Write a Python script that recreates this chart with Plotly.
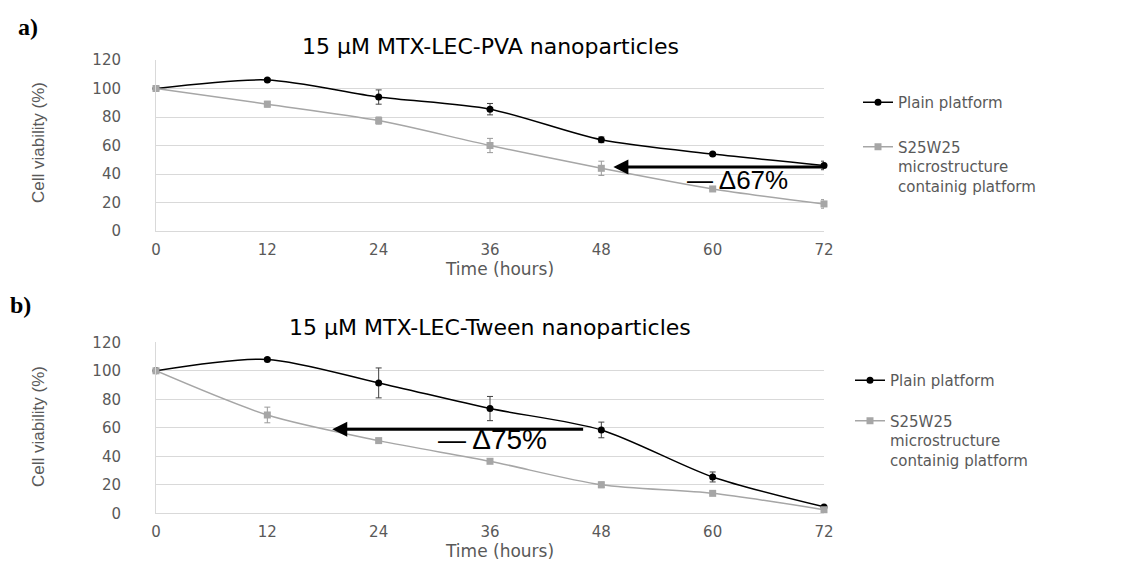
import plotly.graph_objects as go

hours = [0, 12, 24, 36, 48, 60, 72]
tick_labels = ["0", "12", "24", "36", "48", "60", "72"]

# Panel a) MTX-LEC-PVA
a_plain = [100, 106, 94, 85.5, 64, 54, 46]
a_plain_err = [0, 1, 5, 4, 2, 1, 3]
a_micro = [100, 89, 77.5, 60, 44, 29.5, 19]
a_micro_err = [0, 2, 2.5, 5, 5, 1, 3]

# Panel b) MTX-LEC-Tween
b_plain = [100, 108, 91.5, 73.5, 58.5, 25.5, 4.5]
b_plain_err = [0, 1, 10.5, 8.5, 5.5, 3.5, 1]
b_micro = [100, 69, 51, 36.5, 20, 14, 2.5]
b_micro_err = [0, 5.5, 1, 1, 2, 1, 1]

names = ["Plain platform", "S25W25<br>microstructure<br>containig platform"]
titles = ["15 µM MTX-LEC-PVA nanoparticles", "15 µM MTX-LEC-Tween nanoparticles"]
panel_labels = ["a)", "b)"]
deltas = ["— Δ67%", "— Δ75%"]
x_title = "Time (hours)"
y_title = "Cell viability (%)"

W, H = 1127, 561
BLACK = "#000000"
GRAY = "#a6a6a6"
TXT = "#595959"
GRID = "#d9d9d9"
FONT = "DejaVu Sans"

fig = go.Figure()

panels = [
    (a_plain, a_plain_err, a_micro, a_micro_err, "x", "y", "legend"),
    (b_plain, b_plain_err, b_micro, b_micro_err, "x2", "y2", "legend2"),
]
for i, (pl, ple, mi, mie, xa, ya, lg) in enumerate(panels):
    fig.add_trace(go.Scatter(
        x=hours, y=pl, name=names[0], xaxis=xa, yaxis=ya, legend=lg,
        legendgroup=f"p{i}", mode="lines+markers", cliponaxis=False,
        line=dict(color=BLACK, width=1.5, shape="spline", smoothing=0.8),
        marker=dict(symbol="circle", size=7, color=BLACK),
        error_y=dict(type="data", array=ple, color="#404040", thickness=1, width=3),
    ))
    fig.add_trace(go.Scatter(
        x=hours, y=mi, name=names[1], xaxis=xa, yaxis=ya, legend=lg,
        legendgroup=f"m{i}", mode="lines+markers", cliponaxis=False,
        line=dict(color=GRAY, width=1.5, shape="spline", smoothing=0.8),
        marker=dict(symbol="square", size=7, color=GRAY),
        error_y=dict(type="data", array=mie, color="#999999", thickness=1, width=3),
    ))

x_dom = [156 / W, 824 / W]
y_doms = [[1 - 231 / H, 1 - 60 / H], [1 - 513.3 / H, 1 - 342.3 / H]]

axis_common_x = dict(
    range=[0, 72], tickvals=hours, ticktext=tick_labels, showgrid=False,
    showline=True, linecolor=GRID, linewidth=1, zeroline=False, ticks="",
    ticklabelstandoff=5, automargin=False,
    tickfont=dict(family=FONT, size=15, color=TXT),
)
axis_common_y = dict(
    range=[0, 120], dtick=20, showgrid=True, gridcolor=GRID, gridwidth=1,
    showline=True, linecolor=GRID, linewidth=1, zeroline=False, ticks="",
    ticklabelstandoff=31, automargin=False,
    tickfont=dict(family=FONT, size=15, color=TXT),
)

legend_font = dict(family=FONT, size=15, color=TXT)
fig.update_layout(
    width=W, height=H,
    margin=dict(l=0, r=0, t=0, b=0, autoexpand=False),
    paper_bgcolor="white", plot_bgcolor="white",
    xaxis=dict(domain=x_dom, anchor="y", **axis_common_x),
    yaxis=dict(domain=y_doms[0], anchor="x", **axis_common_y),
    xaxis2=dict(domain=x_dom, anchor="y2", **axis_common_x),
    yaxis2=dict(domain=y_doms[1], anchor="x2", **axis_common_y),
    legend=dict(x=858 / W, y=1 - 86 / H, xanchor="left", yanchor="top",
                valign="top", tracegroupgap=22, bgcolor="rgba(0,0,0,0)",
                font=legend_font),
    legend2=dict(x=850 / W, y=1 - 364 / H, xanchor="left", yanchor="top",
                 valign="top", tracegroupgap=18, bgcolor="rgba(0,0,0,0)",
                 font=legend_font),
    showlegend=True,
)

annotations = []
# titles, axis titles and panel letters
title_y = [47, 327]
xtitle_y = [269, 551]
ytitle_y = [143, 427]
letter_pos = [(16, 27), (8, 305)]
for i in range(2):
    annotations.append(dict(
        text=titles[i], xref="paper", yref="paper", x=490 / W, y=1 - title_y[i] / H,
        xanchor="center", yanchor="middle", showarrow=False,
        font=dict(family=FONT, size=22, color="#000000")))
    annotations.append(dict(
        text=x_title, xref="paper", yref="paper", x=499 / W, y=1 - xtitle_y[i] / H,
        xanchor="center", yanchor="middle", showarrow=False,
        font=dict(family=FONT, size=17, color=TXT)))
    annotations.append(dict(
        text=y_title, xref="paper", yref="paper", x=38 / W, y=1 - ytitle_y[i] / H,
        xanchor="center", yanchor="middle", showarrow=False, textangle=-90,
        font=dict(family="Liberation Sans Narrow, Liberation Sans", size=17, color=TXT)))
    annotations.append(dict(
        text=f"<b>{panel_labels[i]}</b>", xref="paper", yref="paper",
        x=letter_pos[i][0] / W, y=1 - letter_pos[i][1] / H,
        xanchor="left", yanchor="middle", showarrow=False,
        font=dict(family="Liberation Serif", size=24, color="#000000")))

# arrows
annotations.append(dict(
    x=49.3, y=45, ax=72, ay=45, xref="x", yref="y", axref="x", ayref="y",
    text="", showarrow=True, arrowhead=2, arrowsize=1, arrowwidth=3, arrowcolor="#000000"))
annotations.append(dict(
    x=19, y=59, ax=46.2, ay=59, xref="x2", yref="y2", axref="x2", ayref="y2",
    text="", showarrow=True, arrowhead=2, arrowsize=1, arrowwidth=3, arrowcolor="#000000"))
annotations.append(dict(
    text=deltas[0], x=62.7, y=36, xref="x", yref="y", showarrow=False,
    xanchor="center", yanchor="middle",
    font=dict(family="Liberation Sans", size=26, color="#000000")))
annotations.append(dict(
    text=deltas[1], x=36.3, y=51.5, xref="x2", yref="y2", showarrow=False,
    xanchor="center", yanchor="middle",
    font=dict(family="Liberation Sans", size=28, color="#000000")))

fig.update_layout(annotations=annotations)

fig.write_html(
    "out.html",
    config={"displayModeBar": False},
    post_script="document.body.style.margin='0';document.body.style.overflow='hidden';",
)
